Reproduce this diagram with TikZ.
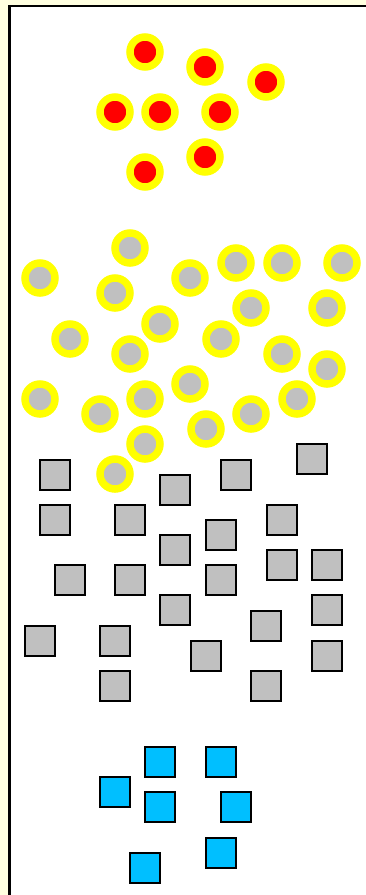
\documentclass[tikz,border=0pt]{standalone}
\definecolor{bgyellow}{RGB}{255,255,224}
\definecolor{silver}{RGB}{192,192,192}
\definecolor{skyblue}{RGB}{0,191,255}
\definecolor{ringyellow}{RGB}{255,255,0}
\definecolor{pured}{RGB}{255,0,0}
\tikzset{
  ring/.style={circle,draw=ringyellow,line width=7.5pt,minimum size=30pt,inner sep=0pt},
  redring/.style={ring,fill=pured},
  grayring/.style={ring,fill=silver},
  sq/.style={rectangle,draw=black,line width=2.4pt,minimum size=30.5pt,inner sep=0pt},
  graysq/.style={sq,fill=silver},
  bluesq/.style={sq,fill=skyblue}
}
\begin{document}
\begin{tikzpicture}[x=1pt,y=-1pt]
\useasboundingbox (0,0) rectangle (366,895);
\fill[bgyellow] (0,0) rectangle (366,895);
\draw[line width=2.5pt,fill=white] (9.3,6.2) rectangle (400,930);
% red circles
\foreach \n/\x/\y in {r1/145/52,r2/205/67,r3/266/82,r4/115/112,r5/160/112,r6/220/112,r7/145/172,r8/205/157}
  \node[redring] (\n) at (\x,\y) {};
% gray circles
\foreach \n/\x/\y in {g1/40/278,g2/130/248,g3/115/293,g4/190/278,g5/236/263,g6/282/263,g7/342/263,g8/251/308,g9/327/308,g10/70/339,g11/160/324,g12/130/354,g13/221/339,g14/282/354,g15/327/369,g16/40/399,g17/100/414,g18/145/399,g19/190/384,g20/206/429,g21/251/414,g22/297/399,g23/145/444,g24/115/474}
  \node[grayring] (\n) at (\x,\y) {};
% gray squares
\foreach \n/\x/\y in {s1/55/475,s2/175/490,s3/236/475,s4/312/459,s5/55/520,s6/130/520,s7/221/535,s8/282/520,s9/175/550,s10/70/580,s11/130/580,s12/221/580,s13/282/565,s14/327/565,s15/175/610,s16/327/610,s17/266/626,s18/40/641,s19/115/641,s20/206/656,s21/327/656,s22/115/686,s23/266/686}
  \node[graysq] (\n) at (\x,\y) {};
% blue squares
\foreach \n/\x/\y in {b1/160/762,b2/221/762,b3/115/792,b4/160/807,b5/236/807,b6/221/853,b7/145/868}
  \node[bluesq] (\n) at (\x,\y) {};
\end{tikzpicture}
\end{document}
